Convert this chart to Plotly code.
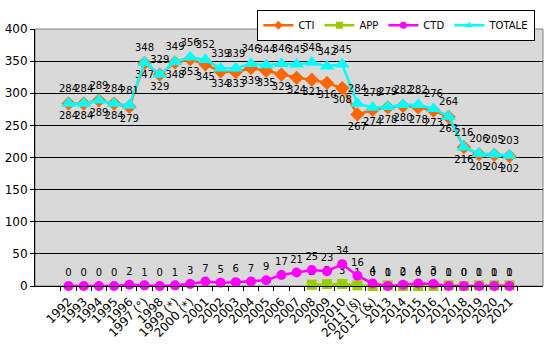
import plotly.graph_objects as go

years = ["1992", "1993", "1994", "1995", "1996", "1997 (°)", "1998", "1999 (*)", "2000 (*)",
         "2001", "2002", "2003", "2004", "2005", "2006", "2007", "2008", "2009", "2010",
         "2011 (§)", "2012 (&)", "2013", "2014", "2015", "2016", "2017", "2018", "2019", "2020", "2021"]

cti = [284, 284, 289, 284, 279, 347, 329, 348, 353, 345, 334, 333, 339, 335, 329, 324, 321, 316, 308,
       267, 274, 278, 280, 278, 273, 263, 216, 205, 204, 202]
app = [None] * 16 + [2, 3, 3, 1, 0, 1, 0, 0, 0, 1, 0, 1, 1, 1]
ctd = [0, 0, 0, 0, 2, 1, 0, 1, 3, 7, 5, 6, 7, 9, 17, 21, 25, 23, 34, 16, 4, 0, 2, 4, 3, 0, 0, 0, 0, 0]
totale = [284, 284, 289, 284, 281, 348, 329, 349, 356, 352, 339, 339, 346, 344, 346, 345, 348, 342, 345,
          284, 278, 279, 282, 282, 276, 264, 216, 206, 205, 203]

FONT = "DejaVu Sans"
lbl = dict(family=FONT, size=10, color="black")

series = [
    ("CTI", cti, "#FF6600", "diamond", 11, "bottom center"),
    ("APP", app, "#99CC00", "square", 10, "top center"),
    ("CTD", ctd, "#FF00FF", "circle", 10, "top center"),
    ("TOTALE", totale, "#00FFFF", "triangle-up", 13, "top center"),
]

fig = go.Figure()
for name, vals, col, sym, sz, pos in series:
    fig.add_trace(go.Scatter(x=years, y=vals, name=name, mode="lines+markers+text",
                             line=dict(color=col, width=2.5),
                             marker=dict(symbol=sym, size=sz, color=col),
                             text=["" if v is None else str(v) for v in vals], textposition=pos,
                             textfont=lbl, cliponaxis=False, showlegend=False))
# legend entries with small symbols
for name, vals, col, sym, sz, pos in series:
    fig.add_trace(go.Scatter(x=[None], y=[None], name=name, mode="lines+markers",
                             line=dict(color=col, width=2.5),
                             marker=dict(symbol=sym, size=7, color=col), showlegend=True))

fig.update_layout(
    width=548, height=344,
    margin=dict(l=35, r=5, t=29, b=58, autoexpand=False),
    paper_bgcolor="white", plot_bgcolor="#D9D9D9",
    font=dict(family=FONT, size=11, color="black"),
    showlegend=True,
    legend=dict(orientation="h", x=0.985, xanchor="right", y=1.075, yanchor="top",
                bordercolor="black", borderwidth=1, bgcolor="white",
                font=dict(family=FONT, size=10),
                itemsizing="trace", tracegroupgap=0),
    xaxis=dict(type="category", tickangle=-45, tickson="boundaries", ticks="outside", ticklen=4,
               tickcolor="black", showline=True, linecolor="black", linewidth=1,
               showgrid=False, tickfont=dict(family=FONT, size=12), ticklabelstandoff=3),
    yaxis=dict(range=[0, 400], dtick=50, ticks="outside", ticklen=4, tickcolor="black",
               showline=True, linecolor="black", linewidth=1,
               gridcolor="black", gridwidth=1, zeroline=False,
               tickfont=dict(family=FONT, size=12)),
    shapes=[dict(type="rect", xref="paper", yref="paper", x0=0, x1=1, y0=0, y1=1,
                 line=dict(color="#808080", width=1), layer="below")],
)

fig.write_html("out.html")
